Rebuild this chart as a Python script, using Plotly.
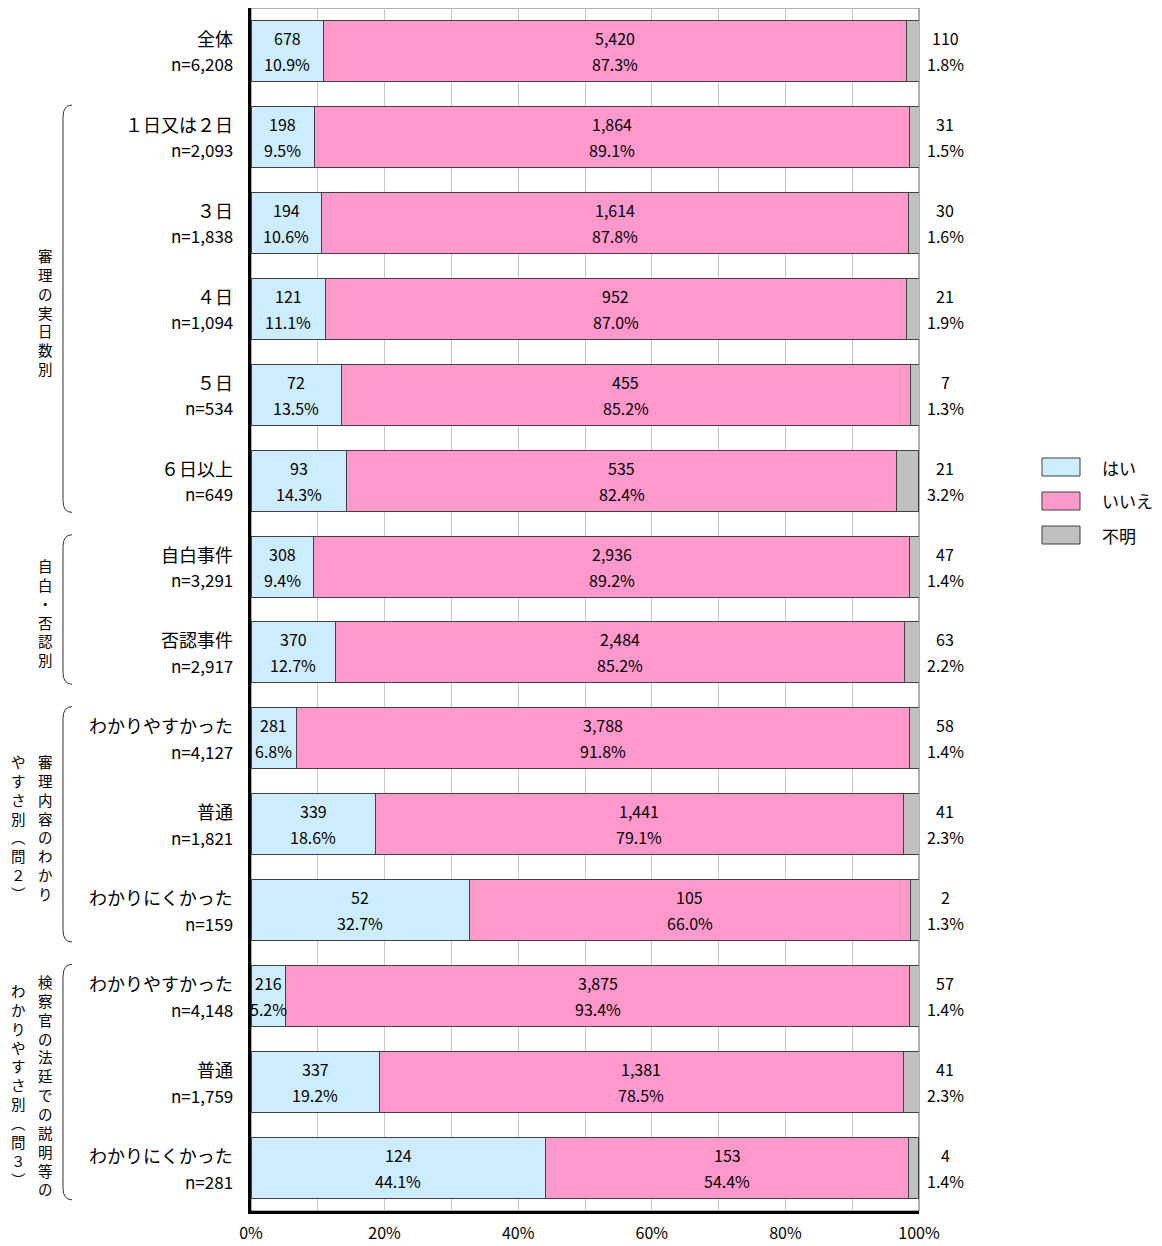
import plotly.graph_objects as go

# categories (left labels) and sample sizes
categories = ["全体", "１日又は２日", "３日", "４日", "５日", "６日以上",
              "自白事件", "否認事件",
              "わかりやすかった", "普通", "わかりにくかった",
              "わかりやすかった", "普通", "わかりにくかった"]
n_labels = ["n=6,208", "n=2,093", "n=1,838", "n=1,094", "n=534", "n=649",
            "n=3,291", "n=2,917",
            "n=4,127", "n=1,821", "n=159",
            "n=4,148", "n=1,759", "n=281"]

series_names = ["はい", "いいえ", "不明"]
yes_count = ["678", "198", "194", "121", "72", "93", "308", "370", "281", "339", "52", "216", "337", "124"]
yes_pct = [10.9, 9.5, 10.6, 11.1, 13.5, 14.3, 9.4, 12.7, 6.8, 18.6, 32.7, 5.2, 19.2, 44.1]
no_count = ["5,420", "1,864", "1,614", "952", "455", "535", "2,936", "2,484", "3,788", "1,441", "105", "3,875", "1,381", "153"]
no_pct = [87.3, 89.1, 87.8, 87.0, 85.2, 82.4, 89.2, 85.2, 91.8, 79.1, 66.0, 93.4, 78.5, 54.4]
unk_count = ["110", "31", "30", "21", "7", "21", "47", "63", "58", "41", "2", "57", "41", "4"]
unk_pct = [1.8, 1.5, 1.6, 1.9, 1.3, 3.2, 1.4, 2.2, 1.4, 2.3, 1.3, 1.4, 2.3, 1.4]

# row groups: (first row, last row, vertical label columns right->left)
group_first = [1, 6, 8, 11]
group_last = [5, 7, 10, 13]
group_labels = [["審理の実日数別"],
                ["自白・否認別"],
                ["審理内容のわかり", "やすさ別︵問２︶"],
                ["検察官の法廷での説明等の", "わかりやすさ別︵問３︶"]]

x_ticks = [0, 20, 40, 60, 80, 100]

colors = ["#CCECFF", "#FF99CC", "#C0C0C0"]
FONT = "Noto Sans CJK JP"

rows = list(range(len(categories)))
pcts = [yes_pct, no_pct, unk_pct]
counts = [yes_count, no_count, unk_count]

fig = go.Figure()
for name, vals, color in zip(series_names, pcts, colors):
    fig.add_trace(go.Bar(
        x=vals, y=rows, orientation="h", name=name,
        marker=dict(color=color, line=dict(color="#404040", width=1)),
        width=0.71, showlegend=False, hoverinfo="x+name",
    ))

ann = []
# labels inside / beside the bar segments
for i in rows:
    centers = [yes_pct[i] / 2, yes_pct[i] + no_pct[i] / 2, 100]
    for k in range(3):
        xshift = 26 if k == 2 else 0
        ann.append(dict(x=centers[k], y=i, text=counts[k][i], yshift=13, xshift=xshift))
        ann.append(dict(x=centers[k], y=i, text=f"{pcts[k][i]:.1f}%", yshift=-13, xshift=xshift))
for a in ann:
    a.update(xref="x", yref="y", showarrow=False, xanchor="center", yanchor="middle",
             font=dict(size=16, color="#000000", family=FONT))

# category labels on the left
for i in rows:
    for txt, ys, fs in ((categories[i], 13, 18), (n_labels[i], -13, 17)):
        ann.append(dict(x=0, y=i, xref="paper", yref="y", text=txt, showarrow=False,
                        xanchor="right", yanchor="middle", xshift=-16, yshift=ys,
                        font=dict(size=fs, color="#000000", family=FONT)))

# page body has an 8px margin, so pixel positions below are page px minus 8
OFF = 8
PLOT_L = 251 - OFF
PLOT_W = 668
PLOT_H = 1203
ROW_PX = PLOT_H / len(categories)

def px_to_paper(px):
    return (px - OFF - PLOT_L) / PLOT_W

def py_to_paper(py):
    return (1211 - py) / PLOT_H

shapes = []
xb, xe = px_to_paper(63), px_to_paper(72)
curve = 12 / ROW_PX
for g in range(len(group_first)):
    top = group_first[g] - 0.37
    bot = group_last[g] + 0.37
    path = (f"M {xe},{top} Q {xb},{top} {xb},{top + curve} "
            f"L {xb},{bot - curve} Q {xb},{bot} {xe},{bot}")
    shapes.append(dict(type="path", path=path, xref="paper", yref="y",
                       line=dict(color="#333333", width=1)))
    mid = (group_first[g] + group_last[g]) / 2
    col_x = [45, 18]
    for c, col in enumerate(group_labels[g]):
        ann.append(dict(x=px_to_paper(col_x[c]), y=mid, xref="paper", yref="y",
                        text="<br>".join(col), showarrow=False, align="center",
                        xanchor="center", yanchor="middle", yshift=-3,
                        font=dict(size=14.5, color="#000000", family=FONT)))

# plot frame (thin top/right)
shapes.append(dict(type="rect", xref="paper", yref="paper", x0=0, x1=1, y0=0, y1=1,
                   line=dict(color="#606060", width=1), layer="below"))

# legend drawn as boxes
leg_y = [467, 501, 535]
for name, color, py in zip(series_names, colors, leg_y):
    yc = py_to_paper(py)
    h = 9 / PLOT_H
    shapes.append(dict(type="rect", xref="paper", yref="paper",
                       x0=px_to_paper(1042), x1=px_to_paper(1080), y0=yc - h, y1=yc + h,
                       fillcolor=color, line=dict(color="#404040", width=1)))
    ann.append(dict(x=px_to_paper(1100), y=yc, xref="paper", yref="paper", text=name,
                    showarrow=False, xanchor="left", yanchor="middle",
                    font=dict(size=17, color="#000000", family=FONT)))

fig.update_layout(
    width=1154, height=1238,
    margin=dict(l=PLOT_L, r=1154 - PLOT_L - PLOT_W, t=0, b=1238 - PLOT_H),
    barmode="stack",
    plot_bgcolor="#FFFFFF", paper_bgcolor="#FFFFFF",
    font=dict(family=FONT, size=16, color="#000000"),
    annotations=ann, shapes=shapes,
    showlegend=False,
)
fig.update_xaxes(
    range=[0, 100], tickvals=x_ticks, ticktext=[f"{v}%" for v in x_ticks],
    showgrid=True, gridcolor="#C8C8C8", gridwidth=1,
    minor=dict(dtick=10, showgrid=True, gridcolor="#C8C8C8", gridwidth=1),
    showline=True, linecolor="#000000", linewidth=3, mirror=False,
    ticks="", tickfont=dict(size=16, family=FONT), zeroline=False,
    ticklabelstandoff=6,
)
fig.update_yaxes(
    range=[len(categories) - 0.5, -0.5], showticklabels=False, showgrid=False,
    showline=True, linecolor="#000000", linewidth=3, zeroline=False, ticks="",
)

fig.write_html("out.html")
